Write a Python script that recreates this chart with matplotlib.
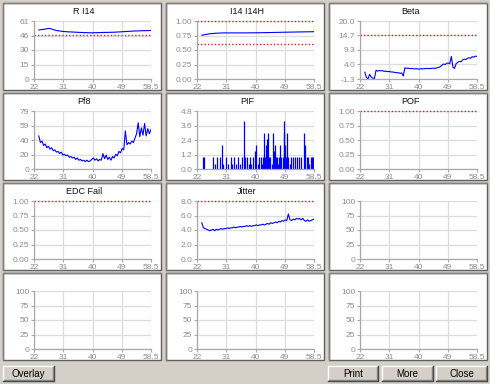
import matplotlib
matplotlib.use('Agg')
import matplotlib.pyplot as plt
import numpy as np
from matplotlib.patches import Rectangle

# Multi-panel test monitor screen (4 x 3 small charts + buttons).

W, H = 490, 384
FACE = '#d4d0c8'

# shared time axis of the line charts
t = [23.5, 24, 24.5, 25, 25.5, 26, 26.5, 27, 27.5, 28,
     28.5, 29, 29.5, 30, 30.5, 31, 31.5, 32, 32.5, 33,
     33.5, 34, 34.5, 35, 35.5, 36, 36.5, 37, 37.5, 38,
     38.5, 39, 39.5, 40, 40.5, 41, 41.5, 42, 42.5, 43,
     43.5, 44, 44.5, 45, 45.5, 46, 46.5, 47, 47.5, 48,
     48.5, 49, 49.5, 50, 50.5, 51, 51.5, 52, 52.5, 53,
     53.5, 54, 54.5, 55, 55.5, 56, 56.5, 57, 57.5, 58,
     58.5]

r_i14 = [51.5, 51.8, 52.0, 52.2, 52.5, 52.8, 53.2, 53.0, 52.6, 52.0,
         51.5, 51.0, 50.8, 50.5, 50.3, 50.0, 49.9, 49.8, 49.6, 49.6,
         49.5, 49.4, 49.3, 49.2, 49.2, 49.0, 49.0, 48.9, 48.8, 48.8,
         48.7, 48.7, 48.6, 48.6, 48.6, 48.7, 48.7, 48.8, 48.8, 48.9,
         48.9, 49.0, 49.0, 49.0, 49.1, 49.1, 49.2, 49.2, 49.3, 49.4,
         49.5, 49.6, 49.7, 49.8, 49.9, 50.0, 50.1, 50.2, 50.3, 50.4,
         50.5, 50.5, 50.6, 50.7, 50.7, 50.8, 50.8, 50.9, 50.9, 51.0,
         51.0]

i14_i14h = [0.755, 0.760, 0.765, 0.770, 0.775, 0.780, 0.782, 0.785, 0.787, 0.790,
            0.790, 0.792, 0.793, 0.794, 0.795, 0.795, 0.795, 0.794, 0.795, 0.795,
            0.795, 0.795, 0.794, 0.795, 0.795, 0.795, 0.796, 0.795, 0.795, 0.796,
            0.796, 0.796, 0.797, 0.796, 0.797, 0.797, 0.798, 0.798, 0.799, 0.799,
            0.800, 0.800, 0.801, 0.801, 0.802, 0.802, 0.803, 0.804, 0.804, 0.805,
            0.806, 0.806, 0.807, 0.807, 0.808, 0.808, 0.809, 0.809, 0.810, 0.810,
            0.811, 0.811, 0.812, 0.812, 0.813, 0.813, 0.814, 0.814, 0.815, 0.815,
            0.816]

beta = [1.2, -0.7, -1.3, 0.4, -0.6, -1.0, -1.1, 1.9, 1.6, 1.8,
        1.7, 1.8, 1.5, 1.6, 1.4, 1.5, 1.3, 1.3, 1.2, 1.1,
        1.0, 1.0, 0.8, 0.9, -0.2, 2.8, 2.6, 2.7, 2.5, 2.6,
        2.5, 2.4, 2.5, 2.4, 2.3, 2.5, 2.4, 2.5, 2.5, 2.6,
        2.5, 2.6, 2.6, 2.7, 2.6, 2.8, 2.9, 3.2, 3.7, 4.2,
        4.0, 4.4, 4.6, 4.3, 7.0, 3.0, 2.6, 4.4, 4.8, 5.2,
        5.0, 5.7, 6.0, 5.8, 6.3, 6.5, 6.3, 6.9, 6.7, 7.1,
        7.0]

pf8 = [45, 36, 38, 32, 34, 29, 31, 27, 29, 25,
       26, 23, 24, 21, 23, 19, 20, 18, 19, 16,
       17, 15, 16, 13, 15, 12, 13, 11, 12, 10,
       12, 10, 11, 13, 15, 12, 14, 11, 13, 12,
       21, 14, 19, 13, 16, 12, 17, 15, 20, 18,
       24, 22, 28, 26, 52, 33, 36, 34, 38, 36,
       42, 48, 63, 44, 56, 46, 62, 45, 55, 48,
       54]

jitter = [5.0, 4.3, 4.2, 4.1, 4.0, 3.9, 4.0, 4.1, 3.9, 4.1,
          4.0, 4.1, 4.2, 4.1, 4.2, 4.2, 4.3, 4.2, 4.3, 4.3,
          4.4, 4.3, 4.4, 4.4, 4.5, 4.4, 4.5, 4.5, 4.6, 4.5,
          4.6, 4.5, 4.6, 4.6, 4.7, 4.6, 4.7, 4.7, 4.8, 4.7,
          4.8, 4.9, 4.8, 5.0, 4.9, 5.0, 5.1, 5.0, 5.2, 5.1,
          5.3, 5.2, 5.4, 5.3, 6.2, 5.4, 5.3, 5.5, 5.4, 5.6,
          5.5, 5.6, 5.4, 5.6, 5.3, 5.2, 5.4, 5.2, 5.3, 5.4,
          5.5]

# PIF event spikes
pif_t = [23.9, 24.3, 27.0, 27.5, 28.3, 29.1, 29.7, 30.2, 31.2, 31.7,
         32.5, 33.0, 33.5, 34.1, 34.8, 35.4, 35.9, 36.7, 37.1, 37.5,
         38.2, 38.6, 39.0, 39.6, 40.2, 40.5, 40.9, 41.4, 41.9, 42.3,
         42.6, 43.0, 43.3, 43.6, 43.8, 44.1, 44.5, 44.9, 45.3, 45.7,
         46.0, 46.3, 46.7, 47.0, 47.3, 47.7, 48.0, 48.3, 48.7, 49.0,
         49.2, 49.4, 49.7, 50.1, 50.5, 51.0, 51.4, 52.0, 52.6, 53.3,
         53.9, 54.5, 55.4, 55.8, 56.2, 56.6, 57.0, 57.5, 57.9, 58.3]
pif = [1.0, 1.0, 1.0, 0.4, 1.0, 1.0, 2.0, 0.4, 1.0, 0.4,
       1.0, 0.4, 1.0, 0.4, 1.0, 0.4, 1.0, 4.0, 1.0, 1.0,
       0.4, 1.0, 0.4, 1.0, 1.5, 2.0, 0.4, 1.0, 1.0, 0.4,
       1.0, 3.0, 1.0, 2.0, 2.5, 3.0, 1.0, 1.0, 0.4, 3.0,
       1.5, 2.0, 1.0, 1.0, 0.4, 1.0, 2.0, 1.0, 1.0, 3.0,
       4.0, 2.0, 1.0, 3.0, 1.0, 0.4, 1.0, 1.0, 1.0, 1.0,
       1.0, 1.0, 3.0, 2.0, 1.0, 1.0, 0.4, 1.0, 1.0, 1.0]

titles = ['R I14', 'I14 I14H', 'Beta', 'Pf8', 'PIF', 'POF',
          'EDC Fail', 'Jitter', '', '', '', '']
y_lo = [0, 0, -1.3, 0, 0, 0, 0, 0, 0, 0, 0, 0]
y_hi = [61, 1.0, 20.0, 79, 4.8, 1.0, 1.0, 8.0, 100, 100, 100, 100]
y_labels = [
    ['0', '15', '30', '46', '61'],
    ['0.00', '0.25', '0.50', '0.75', '1.00'],
    ['-1.3', '4.0', '9.3', '14.7', '20.0'],
    ['0', '20', '40', '59', '79'],
    ['0.0', '1.2', '2.4', '3.6', '4.8'],
    ['0.00', '0.25', '0.50', '0.75', '1.00'],
    ['0.00', '0.25', '0.50', '0.75', '1.00'],
    ['0.0', '2.0', '4.0', '6.0', '8.0'],
    ['0', '25', '50', '75', '100'],
    ['0', '25', '50', '75', '100'],
    ['0', '25', '50', '75', '100'],
    ['0', '25', '50', '75', '100'],
]
x_labels = ['22', '31', '40', '49', '58.5']
limits = {0: [46], 1: [1.0, 0.6], 2: [14.8], 5: [1.0], 6: [1.0], 7: [8.0]}
series = {0: r_i14, 1: i14_i14h, 2: beta, 3: pf8, 7: jitter}

plt.rcParams['font.family'] = ['Liberation Sans Narrow', 'Liberation Sans', 'DejaVu Sans']

fig = plt.figure(figsize=(W / 100, H / 100), dpi=100, facecolor=FACE)
bg = fig.add_axes([0, 0, 1, 1])
bg.set_xlim(0, W)
bg.set_ylim(H, 0)
bg.axis('off')
bg.set_zorder(-1)

col_x = [3, 166, 329]
row_y = [3, 93, 183, 273]
pw, ph = 158, 87


def px_axes(x, y, w, h):
    return fig.add_axes([x / W, 1 - (y + h) / H, w / W, h / H])


def button(x, y, w, h, label):
    bg.add_patch(Rectangle((x, y), w, h, facecolor=FACE, edgecolor='none'))
    bg.plot([x, x, x + w], [y + h, y, y], color='white', lw=1)
    bg.plot([x, x + w, x + w], [y + h, y + h, y], color='#404040', lw=1)
    bg.plot([x + 1, x + w - 1, x + w - 1], [y + h - 1, y + h - 1, y + 1],
            color='#808080', lw=1)
    bg.text(x + w / 2, y + h / 2 + 0.5, label, ha='center', va='center',
            fontsize=7, color='black')


for i in range(12):
    r, c = divmod(i, 3)
    px, py = col_x[c], row_y[r]
    bg.add_patch(Rectangle((px, py), pw, ph, facecolor='white',
                           edgecolor='#606060', lw=1))
    bg.plot([px - 0.5, px - 0.5, px + pw], [py + ph, py - 0.5, py - 0.5],
            color='#808080', lw=1)
    if titles[i]:
        bg.text(px + pw / 2 + 2, py + 8, titles[i], ha='center', va='center',
                fontsize=6.5, color='#101010')

    ax = px_axes(px + 31, py + 18, 117, 58)
    ax.set_facecolor('white')
    ax.set_xlim(22, 58.5)
    ax.set_ylim(y_lo[i], y_hi[i])
    ax.set_xticks(np.linspace(22, 58.5, 5))
    ax.set_xticklabels(x_labels)
    ax.set_yticks(np.linspace(y_lo[i], y_hi[i], 5))
    ax.set_yticklabels(y_labels[i])
    ax.grid(color='#dcdcdc', lw=0.9)
    ax.set_axisbelow(True)
    for s in ('top', 'right'):
        ax.spines[s].set_visible(False)
    for s in ('left', 'bottom'):
        ax.spines[s].set_color('#a8a8a8')
        ax.spines[s].set_linewidth(0.9)
    ax.tick_params(length=2, width=0.8, color='#a8a8a8', labelsize=6,
                   labelcolor='#8c8c8c', pad=1.5)

    if i in series:
        ax.plot(t, series[i], color='#0000ff', lw=0.8)
    if i == 4:
        ax.vlines(pif_t, 0, pif, color='#0000ff', lw=0.9)
    for v in limits.get(i, []):
        ax.axhline(v, color='#e02020', lw=1, ls=(0, (1, 1.5)), clip_on=False)

button(3, 366, 51, 15, 'Overlay')
button(328, 366, 50, 15, 'Print')
button(382, 366, 51, 15, 'More')
button(436, 366, 51, 15, 'Close')

fig.savefig('out.png', dpi=100, facecolor=FACE)
